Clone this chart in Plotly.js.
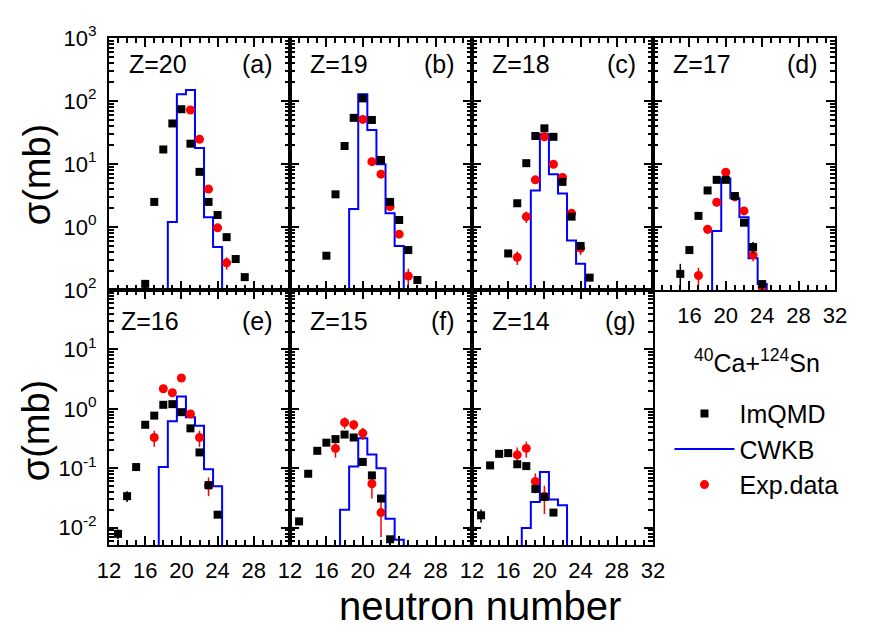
<!DOCTYPE html>
<html>
<head>
<meta charset="utf-8">
<script src="https://cdn.plot.ly/plotly-3.0.1.min.js"></script>
<style>
  html, body { margin: 0; padding: 0; background: #fff; }
  #plot { width: 872px; height: 636px; }
</style>
</head>
<body>
<div id="plot"></div>
<script>
// === Isotope cross sections, 40Ca + 124Sn (mb) ===
const Z_VALUES = [20, 19, 18, 17, 16, 15, 14];
const PANEL_TAGS = ['(a)', '(b)', '(c)', '(d)', '(e)', '(f)', '(g)'];

// ImQMD (black squares)
const IMQMD_N = [
  [16, 17, 18, 19, 20, 21, 22, 23, 24, 25, 26, 27],
  [16, 17, 18, 19, 20, 21, 22, 23, 24, 25, 26],
  [16, 17, 18, 19, 20, 21, 22, 23, 24, 25],
  [15, 16, 17, 18, 19, 20, 21, 22, 23, 24],
  [13, 14, 15, 16, 17, 18, 19, 20, 21, 22, 23, 24],
  [13, 14, 15, 16, 17, 18, 19, 20, 21, 22, 23],
  [13, 14, 15, 16, 17, 18, 19, 20, 21]
];
const IMQMD_SIGMA = [
  [0.125, 2.5, 17, 44, 74, 21, 7.5, 2.5, 1.55, 0.69, 0.31, 0.16],
  [0.35, 3.3, 19.3, 54, 110, 50, 11.6, 2.5, 1.29, 0.43, 0.144],
  [0.38, 2.38, 10.3, 27.8, 36.8, 27, 5.2, 1.46, 0.5, 0.157],
  [0.18, 0.43, 1.5, 3.8, 5.6, 5.6, 3.1, 1.17, 0.48, 0.124],
  [0.0079, 0.034, 0.105, 0.54, 0.77, 1.17, 1.2, 0.88, 0.47, 0.185, 0.052, 0.0166],
  [0.0128, 0.081, 0.197, 0.27, 0.31, 0.37, 0.33, 0.128, 0.076, 0.031, 0.0064],
  [0.0162, 0.112, 0.175, 0.18, 0.117, 0.109, 0.045, 0.033, 0.018]
];
const IMQMD_ERR = [
  [0.01, 0.2, 1.2, 3, 5, 1.5, 0.5, 0.2, 0.1, 0.05, 0.02, 0.01],
  [0.03, 0.25, 1.3, 4, 8, 4, 0.9, 0.2, 0.1, 0.03, 0.01],
  [0.03, 0.2, 0.8, 2, 3, 2, 0.4, 0.1, 0.04, 0.012],
  [0.08, 0.04, 0.12, 0.3, 0.45, 0.45, 0.25, 0.1, 0.1, 0.02],
  [0.0015, 0.007, 0.01, 0.04, 0.06, 0.09, 0.09, 0.07, 0.04, 0.015, 0.005, 0.002],
  [0.0015, 0.007, 0.015, 0.02, 0.025, 0.03, 0.025, 0.01, 0.006, 0.003, 0.0006],
  [0.004, 0.009, 0.013, 0.013, 0.009, 0.009, 0.004, 0.003, 0.002]
];

// Experimental data (red circles)
const EXP_N = [
  [21, 22, 23, 24, 25],
  [20, 21, 22, 23, 24, 25],
  [17, 18, 19, 20, 21, 22, 23, 24],
  [17, 18, 19, 20, 21, 22, 23, 24],
  [17, 18, 19, 20, 21, 22, 23],
  [17, 18, 19, 20, 21, 22],
  [17, 18, 19, 20]
];
const EXP_SIGMA = [
  [72, 24.7, 4.0, 0.97, 0.27],
  [51, 10.9, 6.9, 2.1, 0.77, 0.167],
  [0.33, 1.46, 5.6, 27, 9.9, 6.1, 1.65, 0.46],
  [0.17, 0.92, 2.47, 7.4, 3.0, 1.8, 0.36, 0.11],
  [0.33, 2.18, 1.87, 3.3, 0.82, 0.33, 0.052],
  [0.216, 0.59, 0.54, 0.39, 0.055, 0.018],
  [0.168, 0.216, 0.06, 0.034]
];
const EXP_ERR = [
  [6, 2.5, 0.5, 0.12, 0.06],
  [5, 1.5, 0.8, 0.3, 0.1, 0.05],
  [0.08, 0.3, 0.6, 3, 1, 0.7, 0.25, 0.1],
  [0.055, 0.15, 0.3, 0.8, 0.3, 0.2, 0.075, 0.03],
  [0.1, 0.2, 0.2, 0.3, 0.1, 0.1, 0.018],
  [0.065, 0.13, 0.1, 0.09, 0.024, 0.011],
  [0.055, 0.065, 0.022, 0.017]
];

// CWKB (blue histogram); OFF marks bins below the drawn range
const OFF = 1e-6;
const CWKB_N = [
  [18, 19, 20, 21, 22, 23, 24, 25],
  [18, 19, 20, 21, 22, 23, 24, 25],
  [18, 19, 20, 21, 22, 23, 24, 25],
  [18, 19, 20, 21, 22, 23, 24, 25],
  [17, 18, 19, 20, 21, 22, 23, 24, 25],
  [17, 18, 19, 20, 21, 22, 23, 24, 25],
  [17, 18, 19, 20, 21, 22, 23]
];
const CWKB_SIGMA = [
  [OFF, 1.2, 128, 150, 18, 1.43, 0.48, OFF],
  [OFF, 1.93, 128, 34.7, 9.9, 1.65, 0.5, OFF],
  [OFF, 3.8, 29.6, 6.9, 3.4, 0.61, 0.26, OFF],
  [OFF, 0.86, 5.9, 2.86, 1.43, 0.32, 0.124, OFF],
  [OFF, 0.105, 0.62, 1.62, 0.72, 0.52, 0.096, 0.05, OFF],
  [OFF, 0.02, 0.107, 0.32, 0.17, 0.1, 0.0142, 0.0063, OFF],
  [OFF, 0.0099, 0.027, 0.087, 0.03, 0.024, OFF]
];

// Tick labels (labels hidden where two panels meet)
const X_HIDE_D = { '12': ' ' };
const X_HIDE_EF = { '32': ' ' };
const Y_POWER_LABELS = {
  '0.01': '10<sup>-2</sup>', '0.1': '10<sup>-1</sup>', '1': '10<sup>0</sup>',
  '10': '10<sup>1</sup>', '100': '10<sup>2</sup>', '1000': '10<sup>3</sup>'
};

// === Layout constants ===
const FONT = 'Liberation Sans, Arial, sans-serif';
const COL_EDGES = [0, 0.2493, 0.5, 0.7493, 1];
const ROW_DOMAINS = [[0.503, 1], [0, 0.503]];
const ROW_YRANGE = [[-1, 3], [-2.29, 2]];
const RED = '#ff0000';
const BLUE = '#0000ff';

const traces = [];
const layout = {
  width: 872,
  height: 636,
  margin: { l: 109, r: 37, t: 38, b: 91 },
  paper_bgcolor: '#fff',
  plot_bgcolor: '#fff',
  font: { family: FONT, size: 22, color: '#000' },
  showlegend: true,
  legend: {
    x: 0.772, y: 0.304, xanchor: 'left', yanchor: 'top',
    font: { family: FONT, size: 25, color: '#000' },
    bgcolor: 'rgba(0,0,0,0)', itemwidth: 60, tracegroupgap: 0
  },
  annotations: []
};

function axisBase() {
  return {
    showgrid: false, zeroline: false,
    showline: true, linecolor: '#000', linewidth: 2,
    mirror: 'ticks', ticks: 'inside', ticklen: 9, tickwidth: 2, tickcolor: '#000',
    tickfont: { family: FONT, size: 22, color: '#000' }
  };
}

for (let i = 0; i < Z_VALUES.length; i++) {
  const row = i < 4 ? 0 : 1;
  const col = i < 4 ? i : i - 4;
  const sfx = i === 0 ? '' : String(i + 1);
  const xa = 'x' + sfx, ya = 'y' + sfx;

  // x axis
  const xax = axisBase();
  Object.assign(xax, {
    domain: [COL_EDGES[col], COL_EDGES[col + 1]], anchor: ya,
    range: [12, 32], tickmode: 'linear', tick0: 12, dtick: 4,
    minor: { dtick: 1, ticks: 'inside', ticklen: 5, tickwidth: 1.5, tickcolor: '#000' },
    ticklabelstandoff: 5
  });
  if (i < 3) xax.showticklabels = false;
  else if (i === 3) xax.labelalias = X_HIDE_D;
  else if (i !== 6) xax.labelalias = X_HIDE_EF;
  layout['xaxis' + sfx] = xax;

  // y axis (log, one major tick per decade)
  const yLabels = Object.assign({}, Y_POWER_LABELS);
  if (row === 0) yLabels['0.1'] = ' ';
  const yax = axisBase();
  Object.assign(yax, {
    domain: ROW_DOMAINS[row], anchor: xa, type: 'log',
    range: ROW_YRANGE[row], tickmode: 'linear', tick0: 0, dtick: 1,
    exponentformat: 'none', labelalias: yLabels,
    minor: { dtick: 'D1', ticks: 'inside', ticklen: 5, tickwidth: 1.5, tickcolor: '#000' },
    showticklabels: col === 0,
    ticklabelstandoff: 6
  });
  layout['yaxis' + sfx] = yax;

  // CWKB histogram
  traces.push({
    type: 'scatter', mode: 'lines', name: 'CWKB',
    x: CWKB_N[i], y: CWKB_SIGMA[i], xaxis: xa, yaxis: ya,
    line: { color: BLUE, width: 2, shape: 'hvh' },
    showlegend: i === 0, legendrank: 2
  });
  // Experimental data
  traces.push({
    type: 'scatter', mode: 'markers', name: 'Exp.data',
    x: EXP_N[i], y: EXP_SIGMA[i], xaxis: xa, yaxis: ya,
    marker: { color: RED, size: 9, symbol: 'circle' },
    error_y: { type: 'data', array: EXP_ERR[i], color: RED, thickness: 1.5, width: 0 },
    showlegend: i === 0, legendrank: 3
  });
  // ImQMD
  traces.push({
    type: 'scatter', mode: 'markers', name: 'ImQMD',
    x: IMQMD_N[i], y: IMQMD_SIGMA[i], xaxis: xa, yaxis: ya,
    marker: { color: '#000', size: 8, symbol: 'square' },
    error_y: { type: 'data', array: IMQMD_ERR[i], color: '#000', thickness: 1.5, width: 0 },
    showlegend: i === 0, legendrank: 1
  });

  // Panel labels
  const topOffset = row === 0 ? 0.897 : 0.88;
  layout.annotations.push({
    xref: xa + ' domain', yref: ya + ' domain',
    x: i === 4 ? 0.055 : 0.1, y: topOffset, xanchor: 'left', yanchor: 'middle',
    text: 'Z=' + Z_VALUES[i], showarrow: false,
    font: { family: FONT, size: 25, color: '#000' }
  });
  layout.annotations.push({
    xref: xa + ' domain', yref: ya + ' domain',
    x: 0.915, y: topOffset, xanchor: 'right', yanchor: 'middle',
    text: PANEL_TAGS[i], showarrow: false,
    font: { family: FONT, size: 25, color: '#000' }
  });
}

// Axis titles and reaction label
const centered = { xref: 'paper', yref: 'paper', xanchor: 'center', yanchor: 'middle', showarrow: false };
layout.annotations.push(
  Object.assign({}, centered, { x: -0.1, y: 0.732, textangle: -90, text: 'σ(mb)',
    font: { family: FONT, size: 38, color: '#000' } }),
  Object.assign({}, centered, { x: -0.1, y: 0.227, textangle: -90, text: 'σ(mb)',
    font: { family: FONT, size: 38, color: '#000' } }),
  Object.assign({}, centered, { x: 0.511, y: -0.12, text: 'neutron number',
    font: { family: FONT, size: 40, color: '#000' } }),
  Object.assign({}, centered, { x: 0.8926, y: 0.362, text: '<sup>40</sup>Ca+<sup>124</sup>Sn',
    font: { family: FONT, size: 25, color: '#000' } })
);

Plotly.newPlot('plot', traces, layout, { displayModeBar: false });
</script>
</body>
</html>
